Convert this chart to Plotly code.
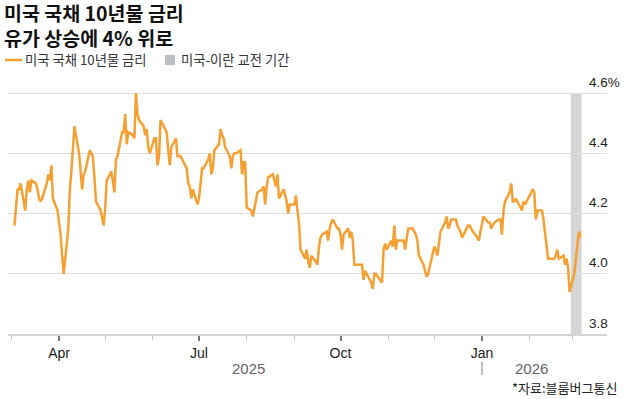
import pandas as pd
import plotly.graph_objects as go

# ---- data: US 10Y Treasury yield (%), business days per month ----
month_starts = ["2025-03-01", "2025-04-01", "2025-05-01", "2025-06-01", "2025-07-01",
                "2025-08-01", "2025-09-01", "2025-10-01", "2025-11-01", "2025-12-01",
                "2026-01-01", "2026-02-01", "2026-03-01"]

mar25 = [4.16, 4.22, 4.28, 4.28, 4.30, 4.21, 4.28, 4.31, 4.27, 4.31, 4.30, 4.28, 4.25, 4.24,
         4.25, 4.30, 4.33, 4.31, 4.36, 4.25, 4.21]
apr25 = [4.17, 4.13, 4.06, 4.00, 4.15, 4.28, 4.34, 4.42, 4.49, 4.40, 4.33, 4.28, 4.33, 4.34,
         4.41, 4.40, 4.39, 4.32, 4.24, 4.21, 4.18, 4.16]
may25 = [4.22, 4.31, 4.34, 4.30, 4.27, 4.38, 4.39, 4.47, 4.47, 4.53, 4.43, 4.47, 4.46, 4.45,
         4.60, 4.53, 4.51, 4.49, 4.46, 4.48, 4.42, 4.40]
jun25 = [4.45, 4.45, 4.36, 4.39, 4.51, 4.48, 4.47, 4.41, 4.36, 4.42, 4.45, 4.39, 4.39, 4.39,
         4.38, 4.35, 4.30, 4.29, 4.25, 4.28, 4.23]
jul25 = [4.25, 4.30, 4.35, 4.35, 4.38, 4.40, 4.33, 4.35, 4.41, 4.43, 4.48, 4.46, 4.45, 4.42,
         4.39, 4.35, 4.39, 4.40, 4.40, 4.41, 4.33, 4.37, 4.37]
aug25 = [4.22, 4.21, 4.19, 4.22, 4.24, 4.27, 4.28, 4.29, 4.23, 4.29, 4.32, 4.33, 4.31, 4.29,
         4.33, 4.25, 4.28, 4.26, 4.24, 4.20, 4.23]
sep25 = [4.23, 4.26, 4.21, 4.17, 4.08, 4.05, 4.08, 4.04, 4.02, 4.06, 4.04, 4.03, 4.09, 4.12,
         4.13, 4.14, 4.11, 4.15, 4.17, 4.18, 4.15, 4.15]
oct25 = [4.13, 4.08, 4.13, 4.15, 4.12, 4.14, 4.11, 4.03, 4.03, 4.03, 4.03, 3.98, 4.01, 3.98,
         3.97, 3.95, 4.00, 4.00, 3.98, 3.97, 4.08, 4.10, 4.08]
nov25 = [4.11, 4.09, 4.16, 4.08, 4.11, 4.11, 4.11, 4.08, 4.11, 4.15, 4.15, 4.14, 4.13, 4.11,
         4.06, 4.03, 4.01, 3.99, 4.00, 4.02]
dec25 = [4.09, 4.08, 4.06, 4.10, 4.14, 4.17, 4.19, 4.15, 4.16, 4.18, 4.18, 4.16, 4.15, 4.14,
         4.12, 4.15, 4.16, 4.16, 4.15, 4.14, 4.12, 4.11, 4.14]
jan26 = [4.17, 4.19, 4.17, 4.17, 4.15, 4.16, 4.17, 4.18, 4.18, 4.13, 4.21, 4.24, 4.27, 4.30,
         4.24, 4.24, 4.25, 4.22, 4.21, 4.24, 4.23, 4.24]
feb26 = [4.27, 4.28, 4.27, 4.18, 4.21, 4.21, 4.18, 4.14, 4.09, 4.05, 4.05, 4.05, 4.06, 4.08,
         4.05, 4.06, 4.03, 4.05, 4.02, 3.94]
mar26 = [4.00, 4.04, 4.09, 4.14, 4.12]

monthly_values = [mar25, apr25, may25, jun25, jul25, aug25, sep25, oct25, nov25, dec25,
                  jan26, feb26, mar26]

conflict_start = "2026-02-27 18:00"
conflict_end = "2026-03-06 18:00"

y_tickvals = [3.8, 4.0, 4.2, 4.4, 4.6]
y_ticktext = ["3.8", "4.0", "4.2", "4.4", "4.6%"]
x_tickvals = ["2025-04-01", "2025-07-01", "2025-10-01", "2026-01-01"]
x_ticktext = ["Apr", "Jul", "Oct", "Jan"]
year_labels = [("2025-08-02", "2025"), ("2026-02-02", "2026")]

title_text = "미국 국채 10년물 금리<br>유가 상승에 4% 위로"
legend_line_text = "미국 국채 10년물 금리"
legend_band_text = "미국-이란 교전 기간"
source_text = "*자료:블룸버그통신"

# ---- build series ----
dates, values = [], []
for start, vals in zip(month_starts, monthly_values):
    dates += list(pd.bdate_range(start, periods=len(vals)))
    values += vals

ORANGE = "#F5A033"
KR = "Noto Sans CJK KR"
LAT = "Liberation Sans, Arial, sans-serif"

W, H = 628, 399
ML, MR, MT, MB = 8, 21, 87, 65
PW, PH = W - ML - MR, H - MT - MB


def px_x(p):
    return (p - ML) / PW


def px_y(p):
    return (H - MB - p) / PH


fig = go.Figure()
fig.add_trace(go.Scatter(x=dates, y=values, mode="lines",
                         line=dict(color=ORANGE, width=2.5), showlegend=False,
                         hoverinfo="x+y"))

shapes = [
    dict(type="rect", xref="x", yref="y", x0=conflict_start, x1=conflict_end,
         y0=3.8, y1=4.6, fillcolor="#d5d5d5", line=dict(width=0), layer="below"),
    # legend marks
    dict(type="line", xref="paper", yref="paper", x0=px_x(5), x1=px_x(22),
         y0=px_y(60), y1=px_y(60), line=dict(color=ORANGE, width=2.5)),
    dict(type="rect", xref="paper", yref="paper", x0=px_x(165), x1=px_x(175),
         y0=px_y(65), y1=px_y(55), fillcolor="#bcc0c5", line=dict(width=0)),
    # year separator
    dict(type="line", xref="x", yref="paper", x0="2026-01-01", x1="2026-01-01",
         y0=px_y(362), y1=px_y(375), line=dict(color="#aaaaaa", width=1.5)),
]

annotations = [
    dict(xref="paper", yref="paper", x=px_x(3), y=px_y(25), text=title_text,
         showarrow=False, xanchor="left", yanchor="middle", align="left", borderpad=0,
         font=dict(family=KR, size=19.5, color="#111", weight="bold")),
    dict(xref="paper", yref="paper", x=px_x(24), y=px_y(60), text=legend_line_text,
         showarrow=False, xanchor="left", yanchor="middle", borderpad=0,
         font=dict(family=KR, size=13.3, color="#333")),
    dict(xref="paper", yref="paper", x=px_x(180), y=px_y(60), text=legend_band_text,
         showarrow=False, xanchor="left", yanchor="middle", borderpad=0,
         font=dict(family=KR, size=13.3, color="#333")),
    dict(xref="paper", yref="paper", x=px_x(619), y=px_y(387.5), text=source_text,
         showarrow=False, xanchor="right", yanchor="middle",
         font=dict(family=KR, size=13, color="#222")),
]
for v, t in zip(y_tickvals, y_ticktext):
    annotations.append(dict(xref="paper", yref="y", x=px_x(587), y=v, yshift=11,
                            text=t, showarrow=False, xanchor="left", yanchor="middle",
                            font=dict(family=LAT, size=13.5, color="#222")))
for xv, t in year_labels:
    annotations.append(dict(xref="x", yref="paper", x=xv, y=px_y(368), text=t,
                            showarrow=False, xanchor="center", yanchor="middle",
                            font=dict(family=LAT, size=15, color="#666")))

fig.update_layout(
    width=W, height=H,
    margin=dict(l=ML, r=MR, t=MT, b=MB),
    paper_bgcolor="white", plot_bgcolor="white",
    shapes=shapes, annotations=annotations,
    showlegend=False,
    xaxis=dict(type="date", range=["2025-02-26 19:00", "2026-03-23 07:00"],
               tickvals=x_tickvals, ticktext=x_ticktext,
               ticks="outside", ticklen=5, tickwidth=1.5, tickcolor="#777",
               tickfont=dict(family=LAT, size=14, color="#222"),
               showgrid=False, zeroline=False,
               showline=True, linecolor="#d4d4d4", linewidth=1.5,
               minor=dict(ticks="outside", ticklen=4, tickwidth=1, tickcolor="#c8c8c8",
                          dtick="M1", tick0="2025-01-01", showgrid=False)),
    yaxis=dict(range=[3.8, 4.62], tickvals=y_tickvals, showticklabels=False,
               showgrid=True, gridcolor="#dcdcdc", gridwidth=1.2, zeroline=False,
               showline=False, ticks=""),
)

fig.write_html("out.html", config={"displayModeBar": False},
               post_script="document.body.style.margin='0';document.body.style.overflow='hidden';")
